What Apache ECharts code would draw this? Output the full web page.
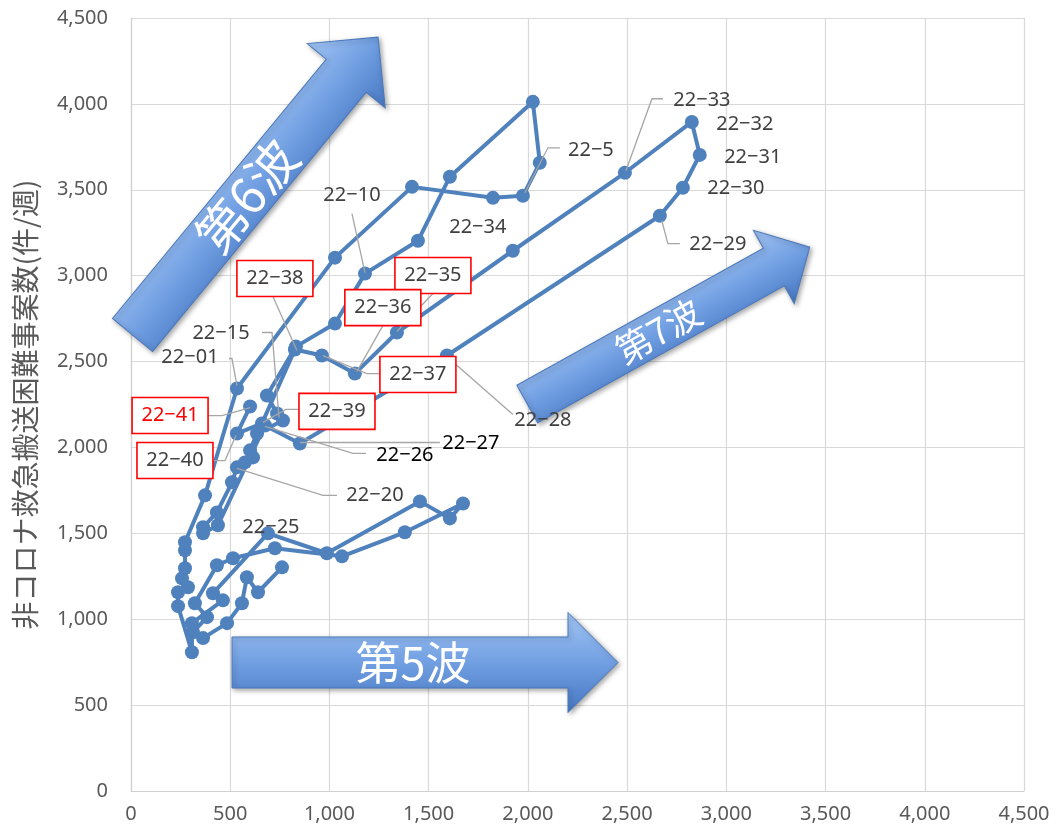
<!DOCTYPE html>
<html><head><meta charset="utf-8">
<script src="https://cdn.jsdelivr.net/npm/echarts@6/dist/echarts.min.js"></script>
<style>html,body{margin:0;padding:0;background:#fff}#c{width:1056px;height:832px}</style>
</head><body><div id="c"></div>
<script>
// ---- data (week, COVID-suspected cases on x, non-COVID cases on y) ----
const weeks = [
 '21-22','21-23','21-24','21-25','21-26','21-27','21-28','21-29','21-30','21-31',
 '21-32','21-33','21-34','21-35','21-36','21-37','21-38','21-39','21-40','21-41',
 '21-42','21-43','21-44','21-45','21-46','21-47','21-48','21-49','21-50','21-51','21-52',
 '22-01','22-02','22-03','22-04','22-05','22-06','22-07','22-08','22-09','22-10',
 '22-11','22-12','22-13','22-14','22-15','22-16','22-17','22-18','22-19','22-20',
 '22-21','22-22','22-23','22-24','22-25','22-26','22-27','22-28','22-29','22-30',
 '22-31','22-32','22-33','22-34','22-35','22-36','22-37','22-38','22-39','22-40','22-41'
];
const covidCases = [
 761,640,584,559,484,363,312,383,322,433,
 514,725,1063,1380,1673,1607,1456,987,690,413,
 463,307,307,237,237,287,257,272,272,272,373,
 534,1028,1416,1824,1975,2060,2025,1607,1446,1179,
 1028,831,685,736,766,635,600,615,574,534,
 509,433,363,363,438,675,851,1592,2665,2781,
 2866,2826,2489,1924,1340,1128,962,826,660,534,600
];
const nonCovidCases = [
 1302,1157,1244,1093,977,890,924,1012,1093,1314,
 1355,1413,1366,1506,1674,1587,1686,1384,1500,1151,
 1110,977,808,1076,1157,1186,1238,1297,1401,1448,1721,
 2343,3105,3517,3453,3465,3657,4012,3576,3203,3012,
 2721,2587,2302,2198,2157,2081,1983,1942,1913,1884,
 1797,1622,1535,1500,1547,2128,2023,2535,3349,3512,
 3703,3895,3599,3145,2669,2430,2535,2570,2140,2081,2238
];
const axisTicks = [0,500,1000,1500,2000,2500,3000,3500,4000,4500];
const yTitle = '非コロナ救急搬送困難事案数(件/週)';
const waveNames = ['第5波','第6波','第7波'];

// ---- annotation layout (pixel offsets relative to the labelled point) ----
const annotations = [
 {week:'22-01', text:'22−01', dx:-47, dy:-31, leader:[[-8,-30],[-5,-30],[0,-3]]},
 {week:'22-05', text:'22−5',  dx:68,  dy:-45, leader:[[37,-48],[25,-48],[2,-3]]},
 {week:'22-10', text:'22−10', dx:-13, dy:-78, leader:[[-13,-60],[0,-1]]},
 {week:'22-15', text:'22−15', dx:-62, dy:-87, leader:[[-21,-88],[-11,-88],[-4,-3]]},
 {week:'22-20', text:'22−20', dx:138, dy:28, leader:[[100,28],[86,28],[0,1]]},
 {week:'22-25', text:'22−25', dx:53,  dy:2},
 {week:'22-26', text:'22−26', dx:140, dy:30, color:'#000', leader:[[101,28],[88,28],[0,1]]},
 {week:'22-27', text:'22−27', dx:171, dy:0, color:'#000', leader:[[140,-1],[0,-1]]},
 {week:'22-28', text:'22−28', dx:96,  dy:65, leader:[[66,59],[1,2]]},
 {week:'22-29', text:'22−29', dx:58,  dy:29, leader:[[20,28],[8,28],[2,5]]},
 {week:'22-30', text:'22−30', dx:53,  dy:1},
 {week:'22-31', text:'22−31', dx:53,  dy:2},
 {week:'22-32', text:'22−32', dx:53,  dy:2},
 {week:'22-33', text:'22−33', dx:77,  dy:-72, leader:[[38,-74],[27,-74],[1,-2]]},
 {week:'22-34', text:'22−34', dx:-35, dy:-23},
 {week:'22-35', text:'22−35', dx:36,  dy:-57, box:true, leader:[[36,-39],[0,-1]]},
 {week:'22-36', text:'22−36', dx:28,  dy:-66, box:true, leader:[[28,-48],[2,-2]]},
 {week:'22-37', text:'22−37', dx:96,  dy:19, box:true, leader:[[59,18],[45,18],[1,0]]},
 {week:'22-38', text:'22−38', dx:-20, dy:-71, box:true, leader:[[-22,-53],[2,1]]},
 {week:'22-39', text:'22−39', dx:75,  dy:-12, box:true, leader:[[37,-14],[24,-14],[1,-1]]},
 {week:'22-40', text:'22−40', dx:-62, dy:27, box:true, leader:[[-25,27],[-12,27],[-1,2]]},
 {week:'22-41', text:'22−41', dx:-80, dy:9, box:true, color:'#ff0000', leader:[[-43,9],[-28,9],[0,1]]}
];

const fmt = v => String(v).replace(/\B(?=(\d{3})+(?!\d))/g, ',');
const chart = echarts.init(document.getElementById('c'), null, {renderer:'canvas'});
const pts = covidCases.map((x,i)=>[x, nonCovidCases[i], weeks[i]]);
const LATIN = '"Noto Sans", "DejaVu Sans", sans-serif';
const CJK = '"Noto Sans CJK JP", "Noto Sans", sans-serif';

chart.setOption({
  animation:false,
  backgroundColor:'#fff',
  grid:{left:131, right:32, top:18, bottom:41, containLabel:false},
  xAxis:{type:'value', min:axisTicks[0], max:axisTicks[axisTicks.length-1], interval:axisTicks[1]-axisTicks[0],
    axisLine:{show:true, lineStyle:{color:'#d0d0d0', width:1.2}}, axisTick:{show:false},
    splitLine:{show:true, lineStyle:{color:'#d9d9d9', width:1.2}},
    axisLabel:{color:'#595959', fontSize:20, fontFamily:LATIN, margin:13, formatter:fmt, showMaxLabel:true}},
  yAxis:{type:'value', min:axisTicks[0], max:axisTicks[axisTicks.length-1], interval:axisTicks[1]-axisTicks[0],
    name:yTitle, nameLocation:'middle', nameRotate:90, nameGap:92,
    nameTextStyle:{color:'#595959', fontSize:28, fontFamily:CJK},
    axisLine:{show:true, lineStyle:{color:'#d0d0d0', width:1.2}}, axisTick:{show:false},
    splitLine:{show:true, lineStyle:{color:'#d9d9d9', width:1.2}},
    axisLabel:{color:'#595959', fontSize:20, fontFamily:LATIN, margin:23, formatter:fmt}},
  series:[{type:'line', data:pts, symbol:'circle', symbolSize:14, showAllSymbol:true,
    lineStyle:{color:'#4f81bd', width:4}, itemStyle:{color:'#4f81bd'}, z:3, clip:false}]
});

function arrowGroup(cx, cy, angleDeg, L, bw, hw, hl, label, fontSize, textAt){
  const p = [[0,-bw/2],[L-hl,-bw/2],[L-hl,-hw/2],[L,0],[L-hl,hw/2],[L-hl,bw/2],[0,bw/2]];
  return {type:'group', x:cx, y:cy, rotation:angleDeg*Math.PI/180, z:20, children:[
    {type:'polygon', z:20, shape:{points:p}, style:{
      fill:new echarts.graphic.LinearGradient(0,0,0,1,[
        {offset:0,color:'#a3c6f5'},{offset:0.5,color:'#719fe2'},{offset:1,color:'#4677c2'}]),
      stroke:'#4a78bb', lineWidth:1, shadowBlur:5, shadowColor:'rgba(0,0,0,0.35)', shadowOffsetX:2, shadowOffsetY:2}},
    {type:'text', z:21, x:textAt, y:0, style:{text:label, fill:'#ffffff', font:fontSize+'px '+CJK,
      align:'center', verticalAlign:'middle', textAlign:'center', textVerticalAlign:'middle'}}
  ]};
}

function drawGraphics(){
  const els = [];
  els.push(arrowGroup(232, 662.5, 0, 386, 51, 100, 50, waveNames[0], 45, 181));
  els.push(arrowGroup(132.5, 335, 50.5, 386, 52, 101, 50, waveNames[1], 50, 180));
  els.push(arrowGroup(527.3, 404, 29.05, 323, 43, 84, 41, waveNames[2], 36, 150));
  annotations.forEach(a=>{
    const i = weeks.indexOf(a.week);
    const p = chart.convertToPixel({seriesIndex:0}, [covidCases[i], nonCovidCases[i]]);
    const lx = p[0]+a.dx, ly = p[1]+a.dy;
    if (a.leader){
      els.push({type:'polyline', z:30, shape:{points:a.leader.map(q=>[p[0]+q[0], p[1]+q[1]])},
        style:{stroke:'#a6a6a6', lineWidth:1.3, fill:null}});
    }
    if (a.box){
      els.push({type:'rect', z:31, shape:{x:lx-38, y:ly-18, width:76, height:36},
        style:{fill:'#ffffff', stroke:'#ff0000', lineWidth:1.6}});
    }
    els.push({type:'text', z:32, x:lx, y:ly, style:{text:a.text, fill:a.color||'#404040',
      font:'20px '+LATIN, align:'center', verticalAlign:'middle', textAlign:'center', textVerticalAlign:'middle'}});
  });
  chart.setOption({graphic:{elements:els}});
}
drawGraphics();
</script></body></html>
